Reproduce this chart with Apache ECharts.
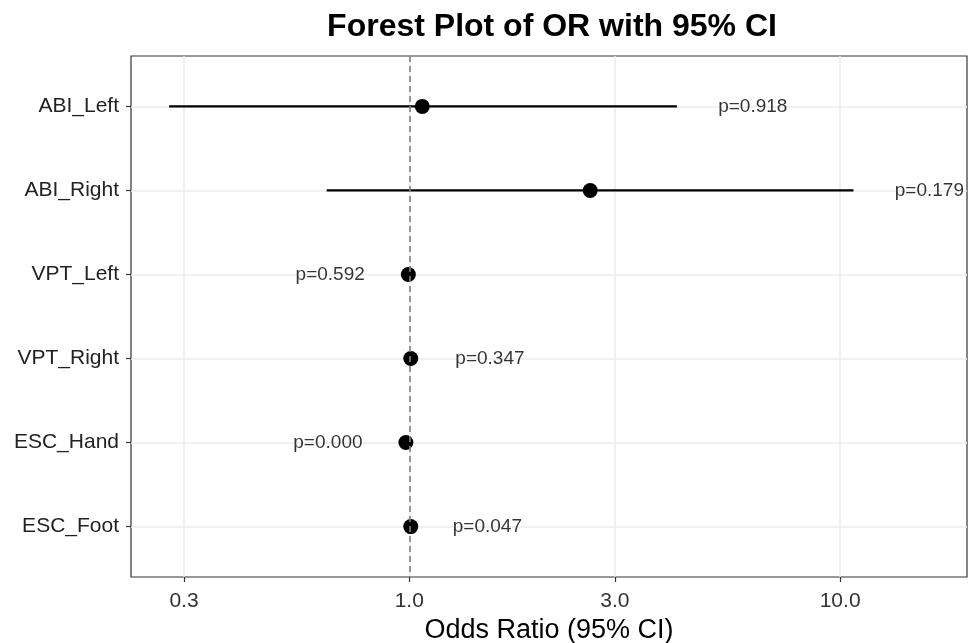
<!DOCTYPE html>
<html>
<head>
<meta charset="utf-8">
<script src="https://cdn.jsdelivr.net/npm/echarts@6/dist/echarts.min.js"></script>
<style>html,body{margin:0;padding:0;background:#fff}#c{width:968px;height:643px}</style>
</head>
<body>
<div id="c"></div>
<script>
const categories = ['ABI_Left', 'ABI_Right', 'VPT_Left', 'VPT_Right', 'ESC_Hand', 'ESC_Foot'];
const orValues = [1.072, 2.63, 0.995, 1.008, 0.982, 1.008];
const ciLower = [0.277, 0.643, 0.983, 0.990, 0.971, 0.995];
const ciUpper = [4.18, 10.74, 1.007, 1.026, 0.993, 1.012];
const pValues = ['0.918', '0.179', '0.592', '0.347', '0.000', '0.047'];
const xTicks = [0.3, 1, 3, 10];

const FONT = '"Liberation Sans", Arial, Helvetica, sans-serif';
const rows = categories.map((c, i) => i);

const ciData = rows.map(i => [ciLower[i], i, ciUpper[i]]);
const pointData = rows.map(i => [orValues[i], i]);
const labelData = rows.map(i => {
  const lx = orValues[i] < 1 ? ciLower[i] / 1.5 : ciUpper[i] * 1.5;
  return { value: [lx, i], p: 'p=' + pValues[i] };
});

const chart = echarts.init(document.getElementById('c'), null, { renderer: 'canvas' });
chart.setOption({
  animation: false,
  backgroundColor: '#ffffff',
  graphic: [{
    type: 'text', x: 552, y: 27,
    style: { text: 'Forest Plot of OR with 95% CI', font: 'bold 32px ' + FONT, fill: '#000', align: 'center', verticalAlign: 'middle' }
  }],
  grid: { left: 131, right: 1, top: 56, bottom: 66, show: true, borderColor: '#333333', borderWidth: 1.2,
    backgroundColor: 'transparent', containLabel: false, outerBoundsMode: 'none' },
  xAxis: {
    type: 'log', logBase: 10, min: 0.226, max: 19.7,
    name: 'Odds Ratio (95% CI)', nameLocation: 'middle', nameGap: 37,
    nameTextStyle: { fontFamily: FONT, fontSize: 27, color: '#000' },
    axisLine: { show: false, onZero: false },
    axisTick: { show: true, length: 5, lineStyle: { color: '#333333', width: 1.2 }, customValues: xTicks },
    axisLabel: { customValues: xTicks, fontFamily: FONT, fontSize: 21, color: '#333333', margin: 14,
      formatter: v => Number(v).toFixed(1) },
    splitLine: { show: true, lineStyle: { color: '#ebebeb', width: 1.5 } },
    minorSplitLine: { show: false }
  },
  yAxis: {
    type: 'value', min: -0.6, max: 5.6, inverse: true,
    axisLine: { show: false, onZero: false },
    axisTick: { show: true, length: 5, lineStyle: { color: '#333333', width: 1.2 }, customValues: rows },
    axisLabel: { customValues: rows, fontFamily: FONT, fontSize: 21, color: '#222222', margin: 12,
      formatter: v => categories[Math.round(v)] },
    splitLine: { show: true, lineStyle: { color: '#ebebeb', width: 1.5 } }
  },
  series: [
    {
      type: 'custom', z: 2,
      data: ciData,
      encode: { x: [0, 2], y: 1 },
      renderItem: (params, api) => {
        const y = api.value(1);
        const a = api.coord([api.value(0), y]);
        const b = api.coord([api.value(2), y]);
        return { type: 'line', shape: { x1: a[0], y1: a[1], x2: b[0], y2: b[1] },
          style: { stroke: '#000000', lineWidth: 2.3 } };
      }
    },
    {
      type: 'scatter', z: 3,
      data: pointData,
      symbol: 'circle', symbolSize: 15,
      itemStyle: { color: '#000000', opacity: 1 }
    },
    {
      type: 'scatter', z: 5,
      data: labelData,
      symbolSize: 0,
      label: { show: true, position: 'inside', formatter: p => p.data.p,
        fontFamily: FONT, fontSize: 19, color: '#000000' },
      markLine: {
        silent: true, symbol: 'none', z: 10,
        label: { show: false },
        lineStyle: { type: [6, 4], color: '#808080', width: 1.6 },
        data: [{ xAxis: 1 }]
      }
    }
  ]
});
</script>
</body>
</html>
